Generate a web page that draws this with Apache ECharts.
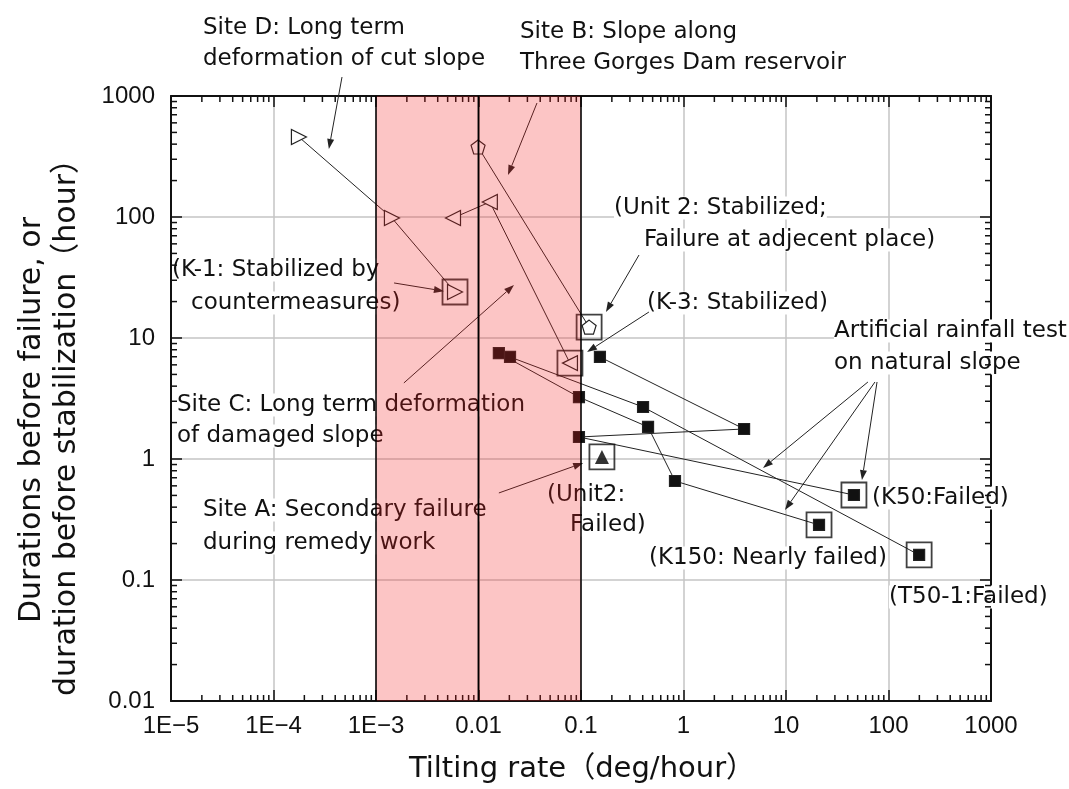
<!DOCTYPE html>
<html>
<head>
  <meta charset="utf-8">
</head>
<body style="margin: 0">
  <div id="chart" style="width: 1069px; height: 789px"></div>
  <script src="https://cdn.jsdelivr.net/npm/echarts@6/dist/echarts.min.js"></script>
  <script>
    // tick labels
    var xTickLabels = ['1E\u22125', '1E\u22124', '1E\u22123', '0.01', '0.1', '1', '10', '100', '1000'];
    var yTickLabels = ['0.01', '0.1', '1', '10', '100', '1000'];

    // [tilting rate (deg/hour), duration (hour)]
    var siteD = [[1.77e-4, 458], [1.43e-3, 98], [5.9e-3, 24]];
    var siteC = [[5.64e-3, 98], [0.0129, 133], [0.078, 6.2]];
    var siteB = [[9.9e-3, 379], [0.12, 12.3]];
    var siteA = [[0.16, 1.04]];
    var testK150 = [[0.0158, 7.5], [0.0955, 3.25], [0.451, 1.84], [0.826, 0.658], [21, 0.285]];
    var testT50 = [[0.0203, 6.97], [0.403, 2.69], [199, 0.161]];
    var testK50 = [[0.153, 6.97], [3.9, 1.77], [0.0955, 1.52], [46, 0.504]];
    // boxed points: final states
    var finalStates = [[5.9e-3, 24], [0.12, 12.3], [0.078, 6.2], [0.16, 1.04], [46, 0.504], [21, 0.285], [199, 0.161]];
    // shaded tilting-rate bands
    var pinkBands = [[1e-3, 0.01], [0.01, 0.1]];

    // annotation arrows, in data coordinates [from, to]
    var arrows = [
      [[4.66e-4, 1435], [3.47e-4, 365]],
      [[0.0372, 875], [0.0194, 222]],
      [[1.5e-3, 28.5], [4.6e-3, 24.4]],
      [[1.87e-3, 4.25], [0.0222, 27.4]],
      [[0.368, 48.5], [0.175, 16.4]],
      [[0.46, 16.4], [0.1146, 7.66]],
      [[0.0158, 0.524], [0.105, 0.927]],
      [[63, 4.33], [5.97, 0.843]],
      [[73.8, 4.33], [9.77, 0.379]],
      [[77.3, 4.33], [55.1, 0.67]]
    ];

    // annotation text: [text, left, middle y]
    var notes = [
      ['Site D: Long term', 203, 28],
      ['deformation of cut slope', 203, 59],
      ['Site B: Slope along', 520, 32],
      ['Three Gorges Dam reservoir', 520, 63],
      ['(Unit 2: Stabilized;', 614, 208],
      ['Failure at adjecent place)', 644, 240],
      ['(K-3: Stabilized)', 647, 303],
      ['(K-1: Stabilized by', 172, 270],
      ['countermeasures)', 191, 303],
      ['Site C: Long term deformation', 177, 405],
      ['of damaged slope', 177, 436],
      ['Site A: Secondary failure', 203, 510],
      ['during remedy work', 203, 543],
      ['(Unit2:', 547, 495],
      ['Failed)', 570, 525],
      ['Artificial rainfall test', 834, 331],
      ['on natural slope', 834, 363],
      ['(K50:Failed)', 872, 498],
      ['(K150: Nearly failed)', 649, 558],
      ['(T50-1:Failed)', 889, 597]
    ];

    var minorX = [];
    for (var e = -5; e < 3; e++) for (var k = 2; k < 10; k++) minorX.push([k * Math.pow(10, e), 1]);
    var minorY = [];
    for (var e2 = -2; e2 < 3; e2++) for (var k2 = 2; k2 < 10; k2++) minorY.push([1, k2 * Math.pow(10, e2)]);

    var chart = echarts.init(document.getElementById('chart'));
    var ink = '#111';
    var labelFont = { fontFamily: 'Liberation Sans', fontSize: 24, color: ink };

    function decade(v) { return Math.round(Math.log10(v)); }

    function axisBase(extra) {
      return Object.assign({
        type: 'log', logBase: 10,
        axisLine: { lineStyle: { color: ink, width: 2 } },
        axisTick: { inside: true, length: 11, lineStyle: { color: ink, width: 1.5 } },
        splitLine: { show: false }
      }, extra);
    }

    function dataLine(data, symbol, size, rotate, fill) {
      return {
        type: 'line', data: data, symbol: symbol, symbolSize: size, symbolRotate: rotate || 0,
        showAllSymbol: true, silent: true, z: 3,
        lineStyle: { color: '#222', width: 1 },
        itemStyle: { color: fill, borderColor: '#222', borderWidth: 1.2 }
      };
    }

    var pentagon = 'path://M0,-1L0.951,-0.309L0.588,0.809L-0.588,0.809L-0.951,-0.309Z';

    chart.setOption({
      animation: false,
      grid: { left: 171, right: 78, top: 96, bottom: 88 },
      xAxis: [
        axisBase({
          min: 1e-5, max: 1000, splitNumber: 8, position: 'bottom',
          axisLabel: Object.assign({ margin: 13, formatter: function (v) { return xTickLabels[decade(v) + 5]; } }, labelFont),
          splitLine: { show: true, lineStyle: { color: '#c4c4c4', width: 1.5 } }
        }),
        axisBase({ min: 1e-5, max: 1000, splitNumber: 8, position: 'top', axisLabel: { show: false } })
      ],
      yAxis: [
        axisBase({
          min: 0.01, max: 1000, splitNumber: 5, position: 'left',
          axisLabel: Object.assign({ margin: 16, formatter: function (v) { return yTickLabels[decade(v) + 2]; } }, labelFont),
          splitLine: { show: true, lineStyle: { color: '#c4c4c4', width: 1.5 } }
        }),
        axisBase({ min: 0.01, max: 1000, splitNumber: 5, position: 'right', axisLabel: { show: false } })
      ],
      series: [
        dataLine(siteD, 'triangle', 15, -90, '#fff'),
        dataLine(siteC, 'triangle', 15, 90, '#fff'),
        dataLine(siteB, pentagon, 14, 0, '#fff'),
        dataLine(testK150, 'rect', 11, 0, ink),
        dataLine(testT50, 'rect', 11, 0, ink),
        dataLine(testK50, 'rect', 11, 0, ink),
        {
          type: 'scatter', data: siteA, symbol: 'triangle', symbolSize: 14, silent: true, z: 3,
          itemStyle: { color: '#000' }
        },
        {
          type: 'scatter', data: finalStates, symbol: 'rect', symbolSize: 25, silent: true, z: 4,
          itemStyle: { color: 'rgba(0,0,0,0)', borderColor: ink, borderWidth: 1.8 }
        },
        {
          // minor ticks on bottom/top
          type: 'custom', data: minorX, silent: true, z: 5,
          renderItem: function (params, api) {
            var cs = params.coordSys;
            var p = api.coord([api.value(0), api.value(1)]);
            var b = cs.y + cs.height;
            return {
              type: 'group', children: [
                { type: 'line', shape: { x1: p[0], y1: b, x2: p[0], y2: b - 6 }, style: { stroke: ink, lineWidth: 1.5 } },
                { type: 'line', shape: { x1: p[0], y1: cs.y, x2: p[0], y2: cs.y + 6 }, style: { stroke: ink, lineWidth: 1.5 } }
              ]
            };
          }
        },
        {
          // minor ticks on left/right
          type: 'custom', data: minorY, silent: true, z: 5,
          renderItem: function (params, api) {
            var cs = params.coordSys;
            var p = api.coord([api.value(0), api.value(1)]);
            var r = cs.x + cs.width;
            return {
              type: 'group', children: [
                { type: 'line', shape: { x1: cs.x, y1: p[1], x2: cs.x + 6, y2: p[1] }, style: { stroke: ink, lineWidth: 1.5 } },
                { type: 'line', shape: { x1: r, y1: p[1], x2: r - 6, y2: p[1] }, style: { stroke: ink, lineWidth: 1.5 } }
              ]
            };
          }
        },
        {
          // pink bands laid over everything, with black edges
          type: 'custom', data: pinkBands, silent: true, z: 20,
          encode: { x: [0, 1] },
          renderItem: function (params, api) {
            var cs = params.coordSys;
            var a = api.coord([api.value(0), 1]);
            var c = api.coord([api.value(1), 1]);
            return {
              type: 'group', children: [
                { type: 'rect', shape: { x: a[0], y: cs.y, width: c[0] - a[0], height: cs.height }, style: { fill: 'rgba(245,30,30,0.26)' } },
                { type: 'line', shape: { x1: a[0], y1: cs.y, x2: a[0], y2: cs.y + cs.height }, style: { stroke: '#000', lineWidth: 1.5 } },
                { type: 'line', shape: { x1: c[0], y1: cs.y, x2: c[0], y2: cs.y + cs.height }, style: { stroke: '#000', lineWidth: 1.5 } }
              ]
            };
          }
        }
      ]
    });

    var graphics = [];
    notes.forEach(function (n) {
      graphics.push({
        type: 'text', x: n[1], y: n[2], z: 1, silent: true,
        style: {
          text: n[0], fontFamily: 'DejaVu Sans', fontSize: 23, fill: ink,
          verticalAlign: 'middle', backgroundColor: '#fff'
        }
      });
    });
    arrows.forEach(function (a) {
      var p0 = chart.convertToPixel({ seriesIndex: 0 }, a[0]);
      var p1 = chart.convertToPixel({ seriesIndex: 0 }, a[1]);
      var dx = p1[0] - p0[0], dy = p1[1] - p0[1];
      var len = Math.sqrt(dx * dx + dy * dy);
      var ux = dx / len, uy = dy / len;
      var bx = p1[0] - ux * 10, by = p1[1] - uy * 10;
      graphics.push({
        type: 'line', z: 1, silent: true,
        shape: { x1: p0[0], y1: p0[1], x2: bx, y2: by },
        style: { stroke: '#222', lineWidth: 1 }
      });
      graphics.push({
        type: 'polygon', z: 1, silent: true,
        shape: { points: [[p1[0], p1[1]], [bx - uy * 3.5, by + ux * 3.5], [bx + uy * 3.5, by - ux * 3.5]] },
        style: { fill: '#222' }
      });
    });
    graphics.push({
      type: 'text', x: 582, y: 769, z: 1,
      style: {
        text: 'Tilting rate\uff08deg/hour\uff09', fontFamily: 'DejaVu Sans, Noto Sans CJK JP', fontSize: 29,
        fill: ink, align: 'center', verticalAlign: 'middle'
      }
    });
    graphics.push({
      type: 'text', x: 50, y: 420, z: 1, rotation: Math.PI / 2,
      style: {
        text: 'Durations before failure, or\nduration before stabilization\uff08hour\uff09',
        fontFamily: 'DejaVu Sans, Noto Sans CJK JP', fontSize: 30, lineHeight: 35,
        fill: ink, align: 'center', verticalAlign: 'middle'
      }
    });
    chart.setOption({ graphic: graphics });
  </script>
</body>
</html>
